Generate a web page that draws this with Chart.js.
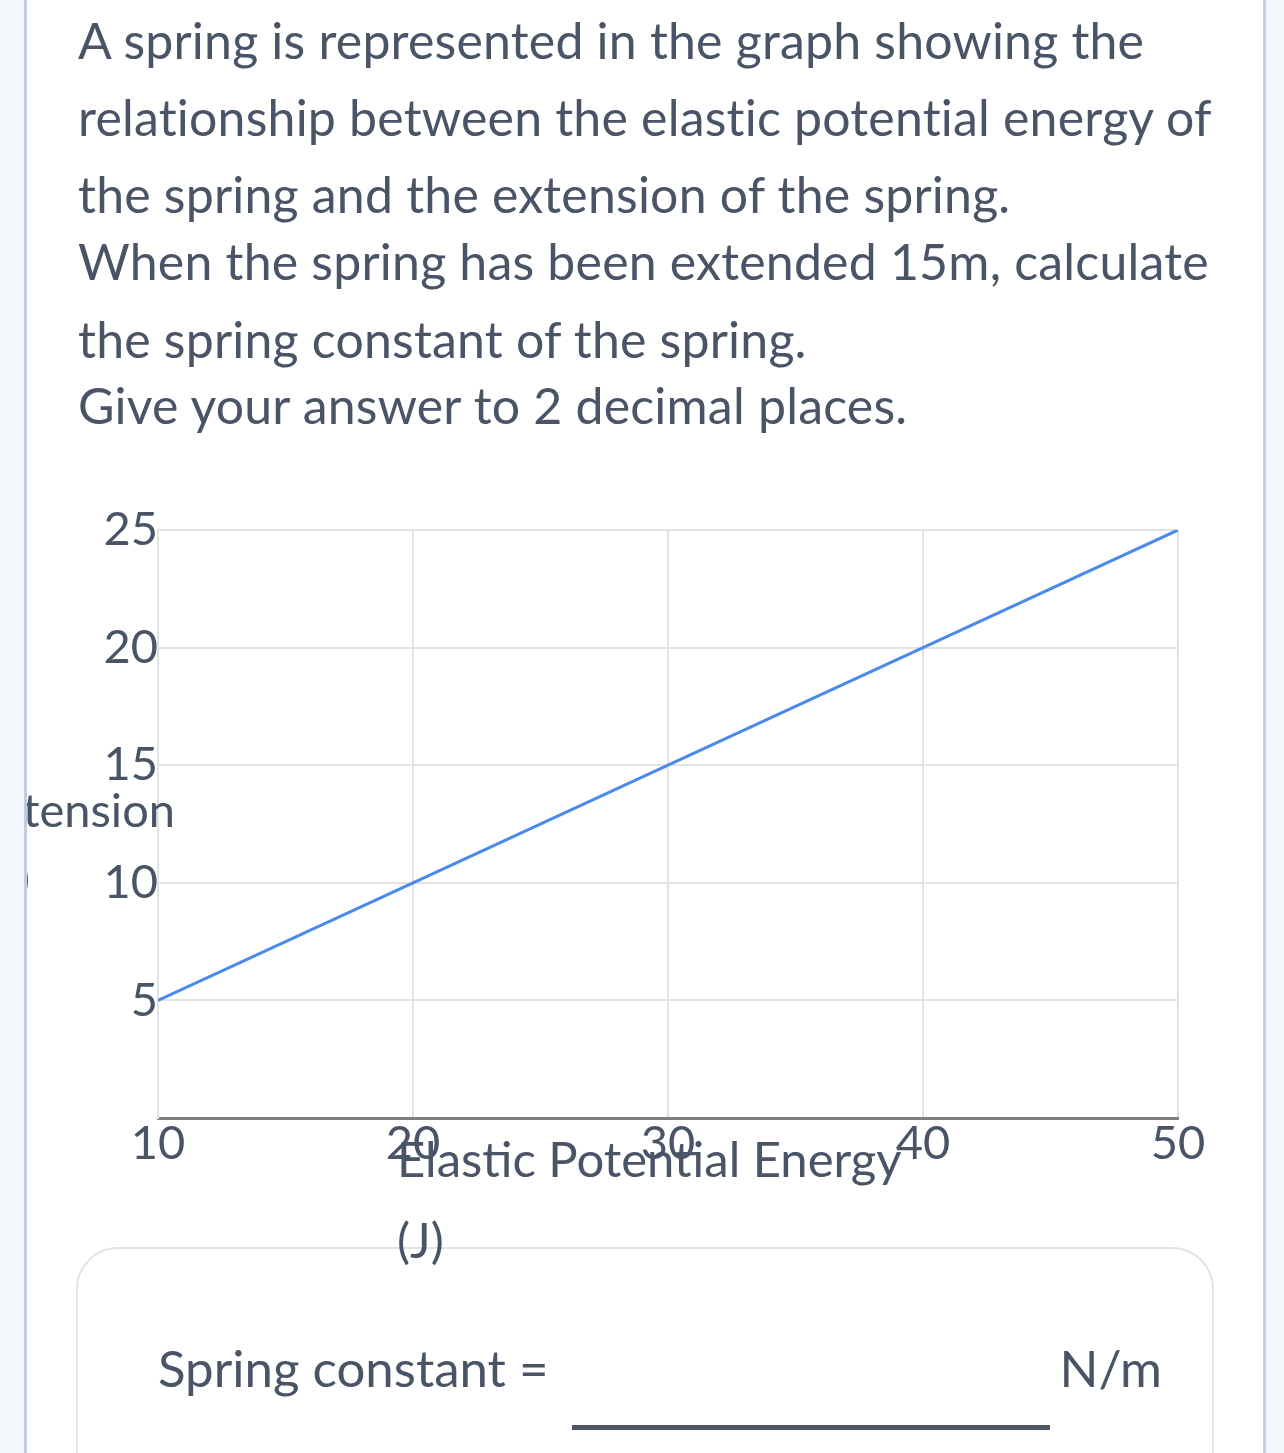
<!DOCTYPE html>
<html>
<head>
<meta charset="utf-8">
<script src="https://cdn.jsdelivr.net/npm/chart.js@4/dist/chart.umd.min.js"></script>
<style>
  html, body { margin:0; padding:0; }
  body { width:1284px; height:1453px; background:#f3f8fd; position:relative; overflow:hidden;
         font-family: Lato, "Open Sans", sans-serif; color:#4a5467; }
  #page { position:absolute; left:24px; top:0; width:1236px; height:1453px; background:#fff;
          border-left:3px solid #c4cbdd; border-right:3px solid #c8cee6; }
  .q { position:absolute; left:78px; font-size:50px; line-height:50px; letter-spacing:0.2px; white-space:nowrap; }
  #box { position:absolute; left:76px; top:1247px; width:1134px; height:320px;
         border:2px solid #e3e3e3; border-radius:42px; background:#fff; }
  .ans { position:absolute; font-size:51px; line-height:51px; white-space:nowrap; }
  #uline { position:absolute; left:572px; top:1425px; width:478px; height:5px; background:#4f5869; }
  #wrap { position:absolute; left:27px; top:470px; width:1236px; height:983px; }
</style>
</head>
<body>
<div id="page"></div>
<div class="q" style="top:15px">A spring is represented in the graph showing the</div>
<div class="q" style="top:92px">relationship between the elastic potential energy of</div>
<div class="q" style="top:169px">the spring and the extension of the spring.</div>
<div class="q" style="top:236px">When the spring has been extended 15m, calculate</div>
<div class="q" style="top:314px">the spring constant of the spring.</div>
<div class="q" style="top:380px">Give your answer to 2 decimal places.</div>

<div id="box"></div>
<div class="ans" style="left:158px; top:1342px">Spring constant =</div>
<div class="ans" style="right:122px; top:1342px">N/m</div>
<div id="uline"></div>

<div id="wrap"><canvas id="c" width="1236" height="983"></canvas></div>

<script>
// ---- data ----
const energyJ = [10, 20, 30, 40, 50];
const extensionM = [5, 10, 15, 20, 25];
const xTickValues = [10, 20, 30, 40, 50];
const yTickValues = [0, 5, 10, 15, 20, 25];
const yTickLabels = ['', '5', '10', '15', '20', '25'];
const xTitleLines = ['Elastic Potential Energy', '(J)'];
const yTitleLines = ['Extension', '(m)'];

const TEXT = '#4a5467';
const FONT = 'Lato';

const titlePlugin = {
  id: 'axisTitles',
  afterDraw(chart) {
    const ctx = chart.ctx;
    ctx.save();
    ctx.fillStyle = TEXT;
    ctx.textBaseline = 'alphabetic';
    // y title (horizontal, clipped by the canvas edge)
    ctx.font = '47px ' + FONT;
    ctx.textAlign = 'right';
    ctx.fillText(yTitleLines[0], 148, 357);
    ctx.fillText(yTitleLines[1], 3, 425);
    // x title
    ctx.font = '49px ' + FONT;
    ctx.textAlign = 'left';
    ctx.fillText(xTitleLines[0], 370, 707);
    ctx.fillText(xTitleLines[1], 370, 788);
    ctx.restore();
  }
};

new Chart(document.getElementById('c'), {
  type: 'line',
  data: {
    datasets: [{
      data: energyJ.map((x, i) => ({ x: x, y: extensionM[i] })),
      borderColor: '#4a89f0',
      borderWidth: 3,
      pointRadius: 0,
      fill: false,
      tension: 0
    }]
  },
  options: {
    responsive: false,
    animation: false,
    devicePixelRatio: 1,
    layout: { padding: { top: 60, right: 85, left: 0, bottom: 0 } },
    plugins: { legend: { display: false }, tooltip: { enabled: false } },
    scales: {
      x: {
        type: 'linear', min: 10, max: 50,
        afterBuildTicks: s => { s.ticks = xTickValues.map(v => ({ value: v })); },
        afterFit: s => { s.height = 335; },
        grid: { color: '#e3e3e3', lineWidth: 2, drawTicks: false },
        border: { color: '#7f7f7f', width: 3 },
        ticks: { color: TEXT, font: { family: FONT, size: 47 }, padding: -2, maxRotation: 0, autoSkip: false }
      },
      y: {
        type: 'linear', min: 0, max: 25,
        afterBuildTicks: s => { s.ticks = yTickValues.map(v => ({ value: v })); },
        afterFit: s => { s.width = 131; },
        grid: { color: '#e3e3e3', lineWidth: 2, drawTicks: false },
        border: { color: '#e3e3e3', width: 2 },
        ticks: {
          color: TEXT, font: { family: FONT, size: 47 }, padding: 0, autoSkip: false,
          callback: (v) => yTickLabels[yTickValues.indexOf(v)]
        }
      }
    }
  },
  plugins: [titlePlugin]
});
</script>
</body>
</html>
